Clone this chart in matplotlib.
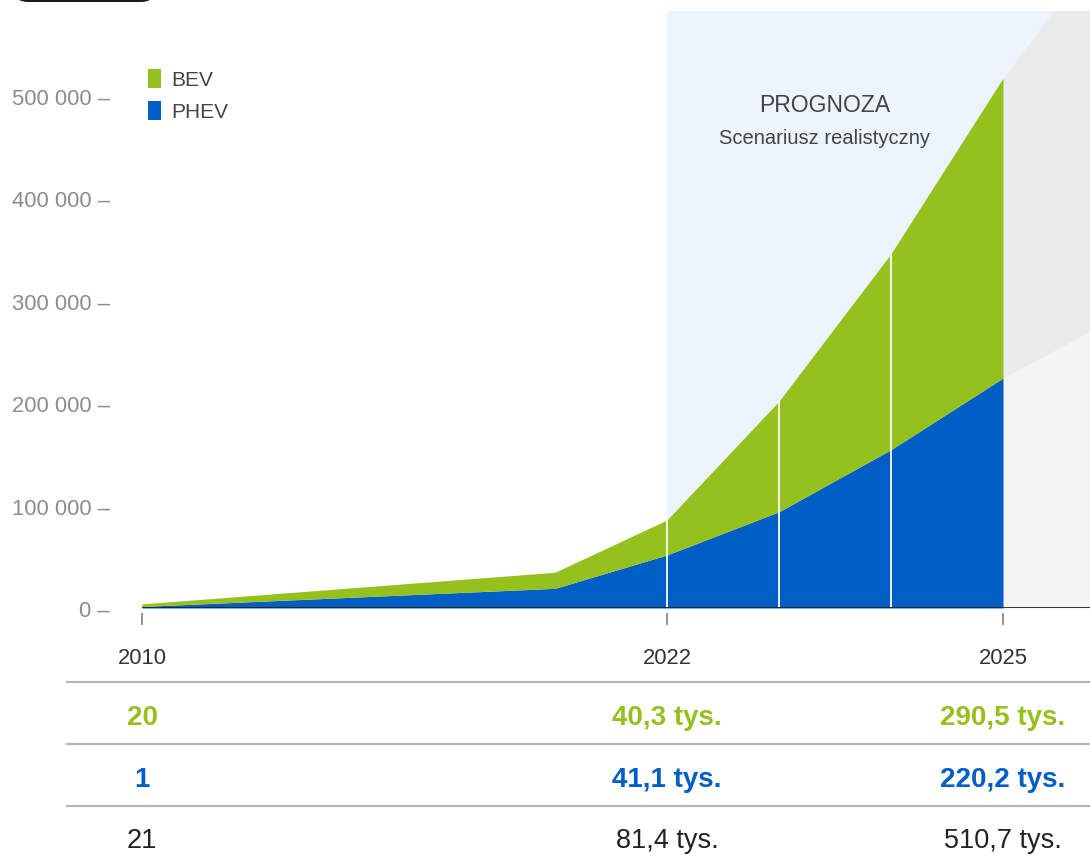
import matplotlib
matplotlib.use("Agg")
import matplotlib.pyplot as plt
import matplotlib.transforms as mtransforms
from matplotlib.patches import FancyBboxPatch, Rectangle

plt.rcParams['font.family'] = ['Liberation Sans', 'DejaVu Sans']

# data (vehicles)
years = [2010, 2021, 2022, 2023, 2024, 2025]
phev = [1500, 19200, 51800, 94000, 154600, 224600]
bev = [2500, 15700, 34200, 108000, 191400, 292900]

# faded continuation after 2025
trend_years = [2025, 2026]
trend_phev = [224600, 283000]
trend_bev = [292900, 380000]

forecast_start = 2022
divider_years = [2022, 2023, 2024]

y_ticks = [0, 100000, 200000, 300000, 400000, 500000]
x_label_years = [2010, 2022, 2025]

# table under the chart
bev_labels = ["20", "40,3 tys.", "290,5 tys."]
phev_labels = ["1", "41,1 tys.", "220,2 tys."]
total_labels = ["21", "81,4 tys.", "510,7 tys."]

GREEN = "#95c11f"
BLUE = "#005ec5"
LIGHT_BLUE = "#ecf4fd"
GREY_TOP = "#ebebeb"
GREY_LOW = "#f4f4f4"

W, H = 1090, 862


def xpos(yr):
    # 2010..2021 is squeezed on the axis, one unit per year afterwards
    if yr <= 2021:
        return (yr - 2010) / 11 * 3.6875
    return 3.6875 + (yr - 2021)


def fx(px):
    return px / W


def fy(py):
    return 1 - py / H


fig = plt.figure(figsize=(W / 100, H / 100), dpi=100)
ax = fig.add_axes([fx(142), fy(609), fx(1090 - 142), (609 - 12) / H])

xs = [xpos(y) for y in years]
total = [p + b for p, b in zip(phev, bev)]
txs = [xpos(y) for y in trend_years]
ttotal = [p + b for p, b in zip(trend_phev, trend_bev)]

ax.axvspan(xpos(forecast_start), 10, color=LIGHT_BLUE, lw=0, zorder=0)
ax.fill_between(txs, trend_phev, ttotal, color=GREY_TOP, lw=0, zorder=1)
ax.fill_between(txs, 0, trend_phev, color=GREY_LOW, lw=0, zorder=1)
ax.fill_between(xs, 0, phev, color=BLUE, lw=0, zorder=2)
ax.fill_between(xs, phev, total, color=GREEN, lw=0, zorder=2)

for yr in divider_years:
    i = years.index(yr)
    ax.plot([xs[i], xs[i]], [0, total[i]], color="white", lw=1.3, zorder=3)

ax.axhline(0, xmin=0, xmax=1, color="#222222", lw=2, zorder=4)

ax.set_xlim(0, (1090 - 142) / 112)
ax.set_ylim(0, (609 - 12) / 1.024 * 1000)

for s in ax.spines.values():
    s.set_visible(False)
ax.set_xticks([])
ax.set_yticks(y_ticks)
ax.set_yticklabels([f"{v:,}".replace(",", " ") + " –" for v in y_ticks])
ax.tick_params(axis="y", length=0, pad=23, labelsize=15.8, labelcolor="#8c8c8c")

xt = ax.get_xaxis_transform()
for yr in x_label_years:
    x = xpos(yr)
    ax.plot([x, x], [-6 / 597, -16 / 597], transform=xt, color="#888888",
            lw=1.3, clip_on=False)
    ax.text(x, -50 / 597, str(yr), transform=xt, ha="center", va="center",
            fontsize=15.8, color="#333333")

ax.text(xpos(2023.41), 1 - (105 - 12) / 597, "PROGNOZA", transform=xt,
        ha="center", va="center", fontsize=16.5, color="#444444")
ax.text(xpos(2023.41), 1 - (138 - 12) / 597, "Scenariusz realistyczny",
        transform=xt, ha="center", va="center", fontsize=14.5, color="#444444")

# legend
for label, col, cy in [("BEV", GREEN, 79), ("PHEV", BLUE, 111)]:
    fig.patches.append(Rectangle((fx(148), fy(cy + 9.5)), fx(13), 19 / H,
                                 transform=fig.transFigure, color=col, lw=0))
    fig.text(fx(171), fy(cy + 2), label, ha="left", va="center", fontsize=15,
             color="#444444")

# black button cut off at the top
fig.patches.append(FancyBboxPatch((fx(15), fy(3)), fx(139), 40 / H,
                                  boxstyle="round,pad=0,rounding_size=0.012",
                                  transform=fig.transFigure, color="#1a1a1a",
                                  lw=0))

# table
for ly in [683, 745, 807]:
    fig.add_artist(plt.Line2D([fx(67), 1], [fy(ly), fy(ly)],
                              transform=fig.transFigure, color="#b4b4b4",
                              lw=1.5))

tt = mtransforms.blended_transform_factory(ax.transData, fig.transFigure)
for i, yr in enumerate(x_label_years):
    x = xpos(yr)
    ax.text(x, fy(718), bev_labels[i], transform=tt, ha="center", va="center",
            fontsize=20, fontweight="bold", color=GREEN, clip_on=False)
    ax.text(x, fy(780), phev_labels[i], transform=tt, ha="center",
            va="center", fontsize=20, fontweight="bold", color=BLUE,
            clip_on=False)
    ax.text(x, fy(841), total_labels[i], transform=tt, ha="center",
            va="center", fontsize=19.5, color="#222222", clip_on=False)

fig.savefig("out.png", dpi=100)
